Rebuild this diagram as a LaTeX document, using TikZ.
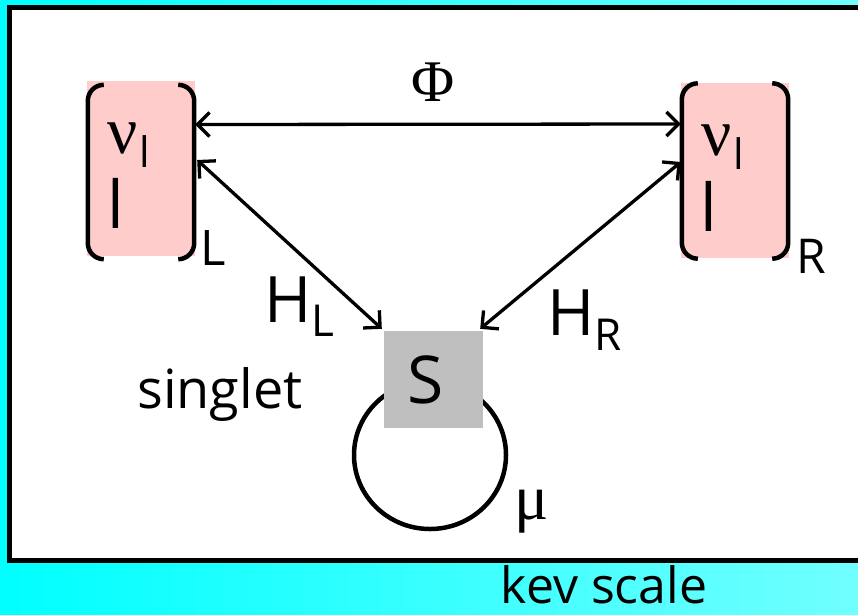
\documentclass[tikz,border=0pt]{standalone}
\usepackage{fontspec}
\setmainfont{Open Sans}
\newfontfamily\grk{Liberation Serif}
\usetikzlibrary{arrows.meta,calc}
\definecolor{pinkfill}{RGB}{255,204,204}
\definecolor{grayfill}{RGB}{191,191,191}
\definecolor{cyanL}{RGB}{0,255,255}
\definecolor{cyanR}{RGB}{112,255,255}
\begin{document}
\begin{tikzpicture}[x=1pt,y=-1pt,
  pinkbox/.style={rectangle,fill=pinkfill,inner sep=0pt,minimum width=108pt,minimum height=175pt},
  sbox/.style={rectangle,fill=grayfill,inner sep=0pt,minimum width=99pt,minimum height=97pt},
  bracket/.style={line width=4.5pt,rounded corners=16pt},
  conn/.style={line width=3.3pt,line cap=round,{Straight Barb[length=12pt,width=24pt,line width=3.3pt]}-{Straight Barb[length=12pt,width=24pt,line width=3.3pt]}},
  lab/.style={anchor=base,inner sep=0pt}]
\useasboundingbox (0,0) rectangle (858,614);
\clip (0,0) rectangle (858,614);
% background
\shade[left color=cyanL,right color=cyanR] (0,0) rectangle (858,614);
\draw[line width=5pt,fill=white] (9.5,7.5) rectangle (880,560);
% boxes
\node[pinkbox] (Lbox) at (141,168.5) {};
\node[pinkbox] (Rbox) at (735,170) {};
\draw[bracket] ($(Lbox.north west)+(17,4)$) -- ($(Lbox.north west)+(1,4)$) -- ($(Lbox.south west)+(1,3)$) -- ($(Lbox.south west)+(17,3)$);
\draw[bracket] ($(Lbox.north east)+(-17,4)$) -- ($(Lbox.north east)+(-1,4)$) -- ($(Lbox.south east)+(-1,3)$) -- ($(Lbox.south east)+(-17,3)$);
\draw[bracket] ($(Rbox.north west)+(17,1)$) -- ($(Rbox.north west)+(1,1)$) -- ($(Rbox.south west)+(1,1)$) -- ($(Rbox.south west)+(17,1)$);
\draw[bracket] ($(Rbox.north east)+(-17,1)$) -- ($(Rbox.north east)+(-1,1)$) -- ($(Rbox.south east)+(-1,1)$) -- ($(Rbox.south east)+(-17,1)$);
% box texts
\node[lab] (Lnu) at (123,153) {\fontsize{67}{67}\selectfont\grk ν};
\node[lab] (Lsub) at (145,167) {\fontsize{42}{42}\selectfont l};
\node[lab] (Ll) at (116,228) {\fontsize{66}{66}\selectfont l};
\node[lab] (Rnu) at (717,155) {\fontsize{67}{67}\selectfont\grk ν};
\node[lab] (Rsub) at (739,169) {\fontsize{42}{42}\selectfont l};
\node[lab] (Rl) at (709,231) {\fontsize{66}{66}\selectfont l};
\node[lab] (Ltag) at (213,265) {\fontsize{49}{49}\selectfont L};
\node[lab] (Rtag) at (811,273) {\fontsize{48}{48}\selectfont R};
% singlet loop and box
\coordinate (loopc) at (430,455);
\draw[line width=4.5pt] (loopc) ellipse (76 and 74);
\node[sbox] (S) at (433.5,379.5) {};
\node[lab] (Stxt) at (426,403) {\fontsize{66}{66}\selectfont S};
% connectors
\draw[conn] ([yshift=44pt]Lbox.east) -- ([yshift=46pt]Rbox.west);
\draw[conn] ([xshift=2pt,yshift=8.5pt]Lbox.east) -- ([xshift=-2pt,yshift=2pt]S.north west);
\draw[conn] ([yshift=8pt]Rbox.west) -- ([xshift=-3pt,yshift=2pt]S.north east);
% labels
\node[lab] (Phi) at (433,101) {\fontsize{59}{59}\selectfont\grk Φ};
\node[lab] (HL) at (288,322) {\fontsize{64}{64}\selectfont H};
\node[lab] (HLs) at (323,336) {\fontsize{44}{44}\selectfont L};
\node[lab] (HR) at (571,335) {\fontsize{64}{64}\selectfont H};
\node[lab] (HRs) at (608,350) {\fontsize{44}{44}\selectfont R};
\node[lab] (singlet) at (220,408) {\fontsize{54}{54}\selectfont singlet};
\node[lab] (mu) at (532,519) {\fontsize{64}{64}\selectfont\grk μ};
\node[lab] (kev) at (604,603) {\fontsize{50}{50}\selectfont kev scale};
\end{tikzpicture}
\end{document}
